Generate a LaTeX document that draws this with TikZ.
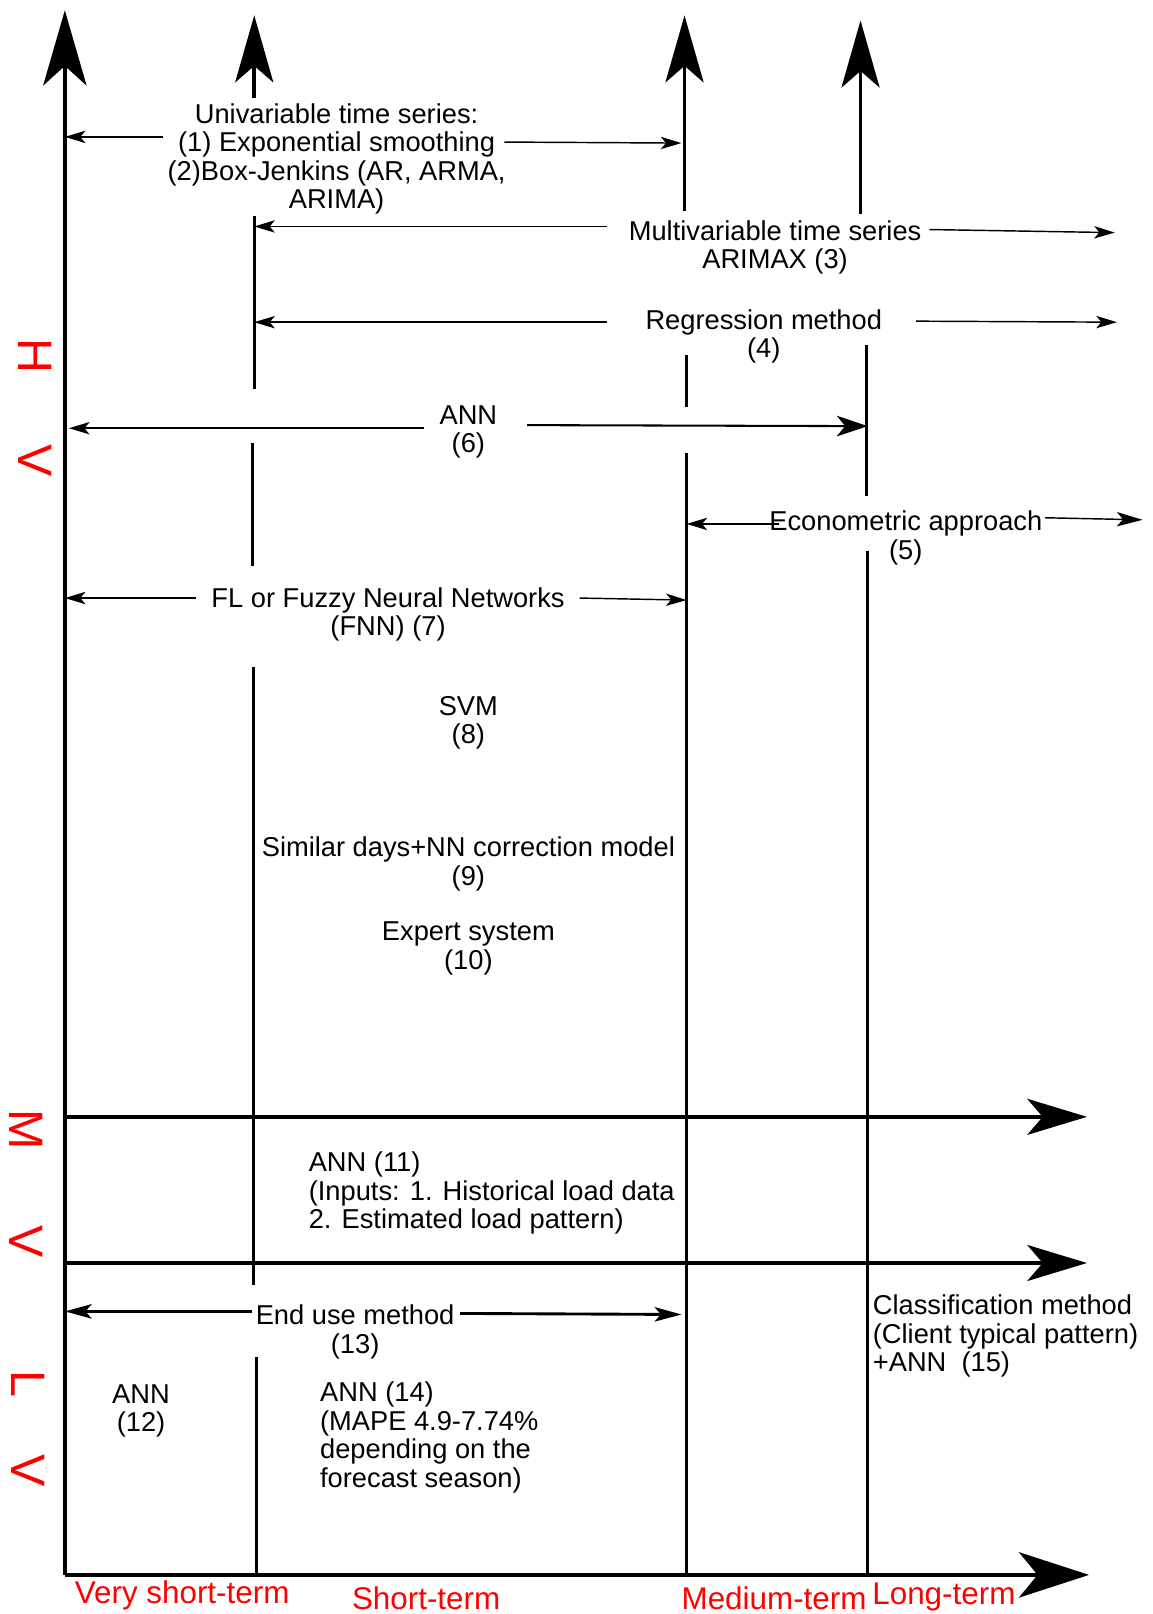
\documentclass[tikz,border=0pt]{standalone}
\usepackage{fontspec}
\setmainfont{Liberation Sans}
\usetikzlibrary{arrows.meta}
\begin{document}
\begin{tikzpicture}[x=1pt,y=-1pt,
  every node/.style={inner sep=0pt, outer sep=0pt},
  lab/.style={align=center, yshift=-3pt, font=\fontsize{26.5}{27.7}\selectfont},
  labl/.style={align=left, yshift=-3pt, font=\fontsize{26.5}{27.7}\selectfont},
  redlab/.style={text=red, yshift=-1pt, font=\fontsize{30.5}{32}\selectfont},
  sidelab/.style={text=red, rotate=-90, font=\fontsize{47}{50}\selectfont},
  bigv/.style={line width=3.6pt, -{Stealth[length=65pt,width=37pt,inset=16pt]}},
  bigh/.style={line width=3.4pt, -{Stealth[length=58pt,width=35pt,inset=15pt]}},
  seg/.style={line width=3.2pt},
  thinarr/.style={line width=1.4pt, -{Stealth[length=20pt,width=12pt,inset=5pt]}},
  midarr/.style={line width=2pt, -{Stealth[length=30pt,width=20pt,inset=8pt]}},
  thickarr/.style={line width=2.8pt, -{Stealth[length=26pt,width=14pt,inset=6pt]}},
]
\path[use as bounding box] (0,0) rectangle (1120,1568);

% ---------- axes ----------
\coordinate (o) at (63,1530);
\coordinate (a1top) at (63,10);
\coordinate (xend) at (1058,1530);
\draw[line width=4pt, -{Stealth[length=73pt,width=42pt,inset=19pt]}] (o) -- (a1top);
\draw[line width=4pt, -{Stealth[length=68pt,width=44pt,inset=18pt]}] (o) -- (xend);

\coordinate (mvs) at (63,1085); \coordinate (mve) at (1056,1085);
\coordinate (lvs) at (63,1227); \coordinate (lve) at (1056,1227);
\draw[bigh] (mvs) -- (mve);
\draw[bigh] (lvs) -- (lve);

% vertical line 2 (x=247)
\coordinate (b1) at (247,95);  \coordinate (b1t) at (247,15);
\draw[bigv] (b1) -- (b1t);
\coordinate (b2a) at (247,210); \coordinate (b2b) at (247,378);
\coordinate (b3a) at (245,430); \coordinate (b3b) at (245,550);
\coordinate (b4a) at (246,648); \coordinate (b4b) at (246,1248);
\coordinate (b5a) at (249,1318); \coordinate (b5b) at (249,1530);
\draw[seg] (b2a) -- (b2b) (b3a) -- (b3b) (b4a) -- (b4b) (b5a) -- (b5b);

% vertical line 3 (x=665)
\coordinate (c1) at (665,205); \coordinate (c1t) at (665,15);
\draw[bigv] (c1) -- (c1t);
\coordinate (c2a) at (667,345); \coordinate (c2b) at (667,395);
\coordinate (c3a) at (667,440); \coordinate (c3b) at (667,1530);
\draw[seg] (c2a) -- (c2b) (c3a) -- (c3b);

% vertical line 4 (x=836..843)
\coordinate (d1) at (836,208); \coordinate (d1t) at (836,20);
\draw[bigv] (d1) -- (d1t);
\coordinate (d2a) at (842,335); \coordinate (d2b) at (842,482);
\coordinate (d3a) at (843,535); \coordinate (d3b) at (843,1530);
\draw[seg] (d2a) -- (d2b) (d3a) -- (d3b);

% ---------- labels ----------
\node[lab] (uni) at (327,151.5) {Univariable time series:\\(1) Exponential smoothing\\(2)Box-Jenkins (AR, ARMA,\\ARIMA)};
\node[lab] (multi) at (753,237.5) {Multivariable time series\\ARIMAX (3)};
\node[lab] (regr) at (742,324) {Regression method\\(4)};
\node[lab] (ann6) at (455,416.5) {ANN\\(6)};
\node[lab] (econ) at (880,519.5) {Econometric approach\\(5)};
\node[lab] (fl) at (377,594) {FL or Fuzzy Neural Networks\\(FNN) (7)};
\node[lab] (svm) at (455,699) {SVM\\(8)};
\node[lab] (sim) at (455,836.5) {Similar days+NN correction model\\(9)};
\node[lab] (exp) at (455,918.5) {Expert system\\(10)};
\node[labl, anchor=west] (ann11) at (300,1156) {ANN (11)\\(Inputs: 1. Historical load data\\2. Estimated load pattern)};
\node[lab] (enduse) at (345,1291) {End use method\\(13)};
\node[lab] (ann12) at (137,1367.5) {ANN\\(12)};
\node[labl, anchor=west] (ann14) at (311,1393.5) {ANN (14)\\(MAPE 4.9-7.74\%\\depending on the\\forecast season)};
\node[labl, anchor=west] (cls) at (848,1295) {Classification method\\(Client typical pattern)\\+ANN~~(15)};

% ---------- method arrows ----------
\coordinate (u1) at (158,133); \coordinate (u1e) at (63,133);
\coordinate (u2) at (490,138); \coordinate (u2e) at (662,139);
\draw[thinarr] (u1) -- (u1e);
\draw[thinarr] (u2) -- (u2e);

\coordinate (m1) at (590,220); \coordinate (m1e) at (247,220);
\coordinate (m2) at (903,223); \coordinate (m2e) at (1083,226);
\draw[thinarr] (m1) -- (m1e);
\draw[thinarr] (m2) -- (m2e);

\coordinate (r1) at (590,313); \coordinate (r1e) at (247,313);
\coordinate (r2) at (890,312); \coordinate (r2e) at (1085,313);
\draw[thinarr] (r1) -- (r1e);
\draw[thinarr] (r2) -- (r2e);

\coordinate (n1) at (412,416); \coordinate (n1e) at (67,416);
\coordinate (n2) at (512,413); \coordinate (n2e) at (843,414);
\draw[thinarr] (n1) -- (n1e);
\draw[midarr] (n2) -- (n2e);

\coordinate (e1) at (757,509); \coordinate (e1e) at (667,509);
\coordinate (e2) at (1015,503); \coordinate (e2e) at (1110,505);
\draw[thinarr] (e1) -- (e1e);
\draw[thinarr, -{Stealth[length=25pt,width=14pt,inset=6pt]}] (e2) -- (e2e);

\coordinate (f1) at (190,581); \coordinate (f1e) at (63,581);
\coordinate (f2) at (563,581); \coordinate (f2e) at (667,583);
\draw[thinarr] (f1) -- (f1e);
\draw[thinarr] (f2) -- (f2e);

\coordinate (g1) at (245,1274); \coordinate (g1e) at (63,1274);
\coordinate (g2) at (447,1276); \coordinate (g2e) at (662,1277);
\draw[thickarr] (g1) -- (g1e);
\draw[thickarr] (g2) -- (g2e);

% ---------- red labels ----------
\node[redlab] (vst) at (177,1549) {Very short-term};
\node[redlab] (st) at (414,1552) {Short-term};
\node[redlab] (mt) at (752,1552) {Medium-term};
\node[redlab] (lt) at (917,1550) {Long-term};

\node[sidelab] (hv) at (34,396) {H\hspace{69pt}V};
\node[sidelab] (mv) at (25,1150) {M\hspace{74pt}V};
\node[sidelab] (lv) at (27,1388) {L\hspace{55pt}V};
\end{tikzpicture}
\end{document}
